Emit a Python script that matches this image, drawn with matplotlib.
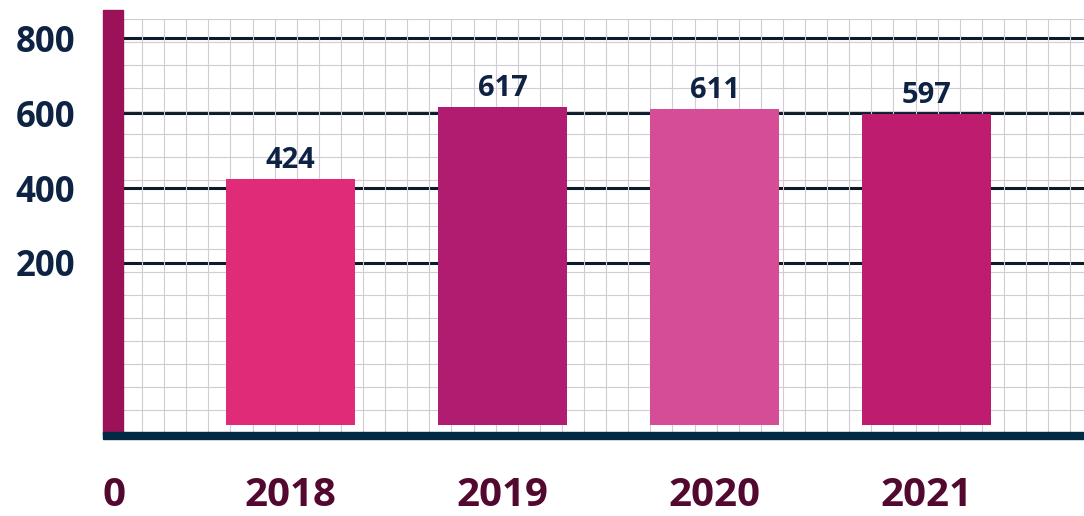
import numpy as np
import matplotlib
matplotlib.use("Agg")
import matplotlib.pyplot as plt
from matplotlib.patches import Rectangle
from matplotlib.transforms import blended_transform_factory

# 数据
years = ["2018", "2019", "2020", "2021"]
values = [424, 617, 611, 597]
bar_colors = ["#e02b79", "#b01c6f", "#d44d96", "#be1c6e"]
y_ticks = [200, 400, 600, 800]

navy = "#0e2344"
maroon = "#53082f"
font = "Open Sans"

fig = plt.figure(figsize=(10.84, 5.16), dpi=100)
W, H = 1084, 516

# 坐标轴位置(像素换算成比例)
left_px, right_px, top_px, bot_px = 113, 1084, 19, 435
ax = fig.add_axes([left_px / W, 1 - bot_px / H,
                   (right_px - left_px) / W, (bot_px - top_px) / H])

ax.set_ylim(-258.67, 850.67)
ax.set_xlim(-0.8373, 3.7429)

# 细网格
ax.set_yticks(np.arange(850.67, -258, -61.33), minor=True)
ax.set_xticks(np.arange(-0.8373 + 7 / 212, 3.75, 22.1 / 212), minor=True)
ax.grid(which="minor", color="#d2cbd6", lw=0.8, zorder=0)
ax.tick_params(which="minor", length=0)

# 粗横线
for t in y_ticks:
    ax.axhline(t, xmin=10 / 971, xmax=1, color="#0b1b2c", lw=2.2, zorder=1)

# 柱子
x = np.arange(len(years))
base = -232
ax.bar(x, np.array(values) - base, bottom=base, width=0.61,
       color=bar_colors, zorder=2)

for xi, v in zip(x, values):
    ax.annotate(str(v), (xi, v), xytext=(0, 8), textcoords="offset points",
                ha="center", va="baseline", fontsize=21, fontweight="bold",
                color=navy, family=font, zorder=3)

# y轴标签
ax.set_yticks(y_ticks)
ax.set_yticklabels([str(t) for t in y_ticks], fontsize=25, fontweight="bold",
                   color=navy, family=font)
ax.tick_params(axis="y", which="major", length=0, pad=27)
ax.set_xticks([])

for s in ax.spines.values():
    s.set_visible(False)

# 左边竖条和底部横线
ax.add_patch(Rectangle((-10 / 971, 0), 20 / 971, 425 / 416, transform=ax.transAxes,
                       color="#9c1258", clip_on=False, zorder=4))
ax.add_patch(Rectangle((-10 / 971, -4 / 416), 981 / 971, 7 / 416, transform=ax.transAxes,
                       color="#022a44", clip_on=False, zorder=5))

# 年份标签
trans = blended_transform_factory(ax.transData, ax.transAxes)
for xi, yr in zip(x, years):
    ax.text(xi, -71 / 416, yr, transform=trans, ha="center", va="baseline",
            fontsize=29, fontweight="bold", color=maroon, family=font)
ax.text(1.5 / 971, -71 / 416, "0", transform=ax.transAxes, ha="center",
        va="baseline", fontsize=29, fontweight="bold", color=maroon, family=font)

fig.savefig("out.png", dpi=100)
